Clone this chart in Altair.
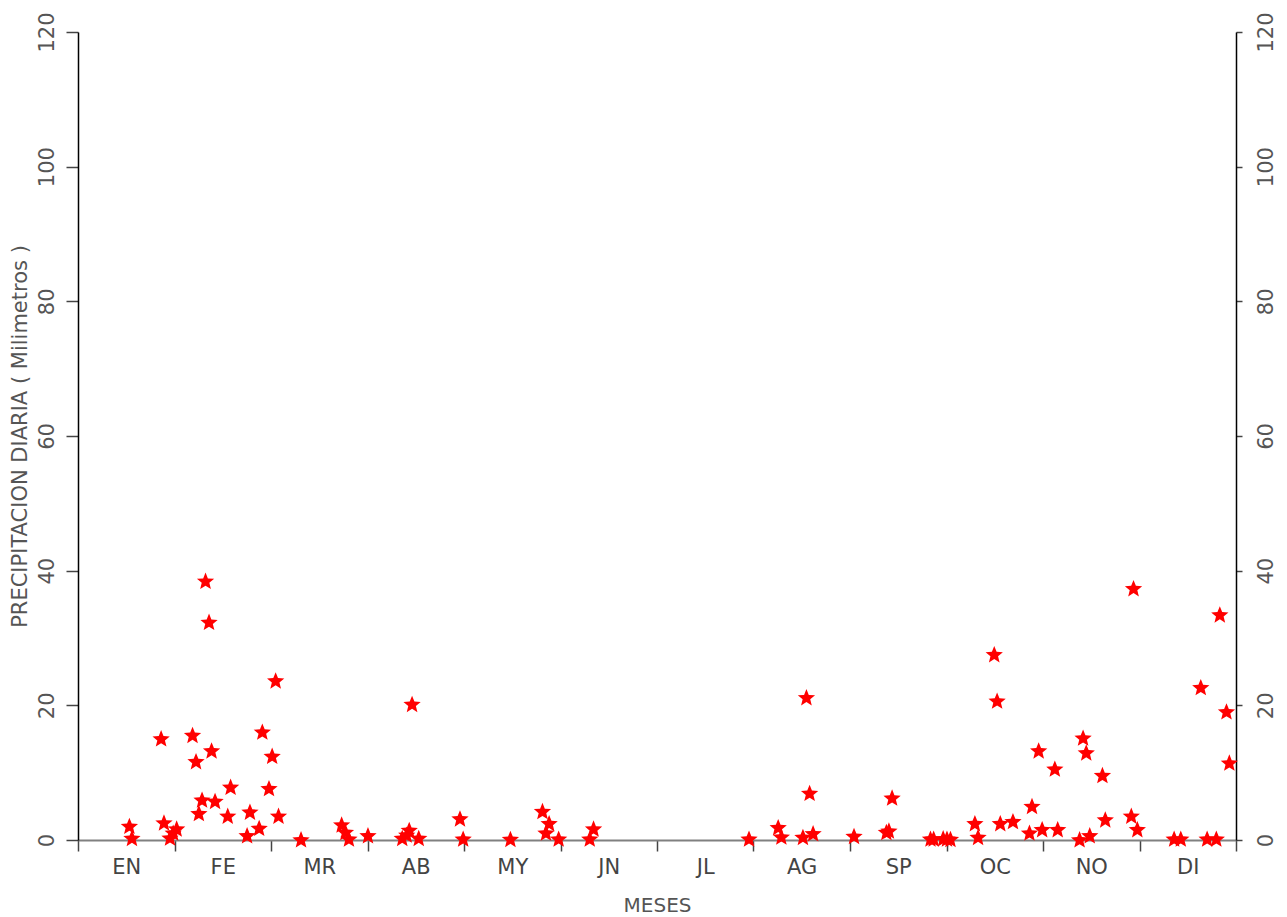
import math
import altair as alt
import pandas as pd

# Day of year (0-365 scale) and daily precipitation (mm)
days = [16.2, 17.0, 26.2, 27.1, 29.0, 30.0, 31.1,
        36.1, 37.2, 38.1, 39.1, 40.2, 41.3, 42.1, 43.2,
        47.2, 48.1, 53.3, 54.2, 57.1, 58.1, 60.2, 61.2, 62.3, 63.2,
        70.3, 83.1, 84.3, 85.4, 91.4, 102.2, 103.6, 104.4, 105.3, 107.4, 120.4, 121.4,
        136.3, 146.4, 147.5, 148.5, 151.5, 161.3, 162.5,
        211.5, 220.7, 221.7, 228.5, 229.6, 230.6, 231.7, 244.6,
        254.8, 255.6, 256.6, 268.7, 269.7, 272.7, 273.9, 275.0,
        282.7, 283.7, 288.8, 289.7, 290.7, 294.7, 299.9, 300.7, 302.8, 303.9, 307.9, 308.8,
        315.7, 316.8, 317.8, 318.9, 322.9, 323.8, 332.0, 332.7, 333.9,
        345.5, 347.6, 353.9, 355.9, 358.8, 359.9, 362.0, 362.9]
precip = [2.1, 0.3, 15.1, 2.6, 0.35, 1.1, 1.7,
          15.6, 11.7, 4.0, 6.0, 38.5, 32.4, 13.3, 5.8,
          3.6, 7.9, 0.7, 4.2, 1.8, 16.1, 7.7, 12.5, 23.7, 3.6,
          0.1, 2.3, 1.2, 0.2, 0.7, 0.3, 0.8, 1.5, 20.2, 0.3, 3.2, 0.2,
          0.15, 4.3, 1.1, 2.5, 0.2, 0.2, 1.7,
          0.2, 1.9, 0.5, 0.45, 21.2, 7.0, 1.0, 0.6,
          1.2, 1.4, 6.3, 0.2, 0.2, 0.25, 0.2, 0.15,
          2.5, 0.45, 27.6, 20.7, 2.5, 2.8, 1.1, 5.05, 13.3, 1.6, 10.6, 1.6,
          0.1, 15.2, 13.0, 0.7, 9.65, 3.05, 3.6, 37.4, 1.6,
          0.2, 0.2, 22.7, 0.2, 0.2, 33.5, 19.1, 11.5]
months = ["EN", "FE", "MR", "AB", "MY", "JN", "JL", "AG", "SP", "OC", "NO", "DI"]
y_ticks = [0, 20, 40, 60, 80, 100, 120]

df = pd.DataFrame({"dia": days, "precip": precip})

# five-point star symbol path
pts = []
for i in range(10):
    a = math.radians(-90 + 36 * i)
    r = 1.0 if i % 2 == 0 else 0.44
    pts.append(f"{r * math.cos(a):.4f},{r * math.sin(a) + 0.0955:.4f}")
star = "M" + " L".join(pts) + " Z"

FONT = "DejaVu Sans"
N = 365
W, H = 1158, 808
odd_test = f"round(datum.value*24/{N}) % 2 == 1"
month_arr = "[" + ",".join(f"'{m}'" for m in months) + "]"
label_expr = f"({odd_test}) ? {month_arr}[(round(datum.value*24/{N})-1)/2] : ''"

x_enc = alt.X(
    "dia:Q",
    scale=alt.Scale(domain=[0, N], nice=False, zero=False),
    axis=alt.Axis(
        values=[k * N / 24 for k in range(25)],
        labelExpr=label_expr,
        title="MESES",
        grid=False,
        domainColor="#808080", domainWidth=2,
        tickColor="#444444", tickWidth=1.5, tickSize=11,
        tickOpacity={"condition": {"test": odd_test, "value": 0}, "value": 1},
        labelFont=FONT, labelFontSize=21, labelColor="#444444",
        labelPadding=5, labelOverlap=False, labelFlush=False,
        titleFont=FONT, titleFontSize=20, titleFontWeight="normal", titleColor="#555555",
        titleX=W / 2, titleY=55, titleAlign="center", titleBaseline="top",
    ),
)

y_scale = alt.Scale(domain=[0, 120], nice=False, zero=True)

left = alt.Chart(df).mark_point(
    shape=star, filled=True, color="#ff0000", size=330, opacity=1, strokeWidth=0
).encode(
    x=x_enc,
    y=alt.Y(
        "precip:Q", scale=y_scale,
        axis=alt.Axis(
            orient="left", values=y_ticks, grid=False,
            domainColor="#000000", domainWidth=1.5,
            tickColor="#444444", tickWidth=1.5, tickSize=12,
            labelAngle=270, labelAlign="center", labelBaseline="alphabetic",
            labelPadding=13, labelFont=FONT, labelFontSize=21, labelColor="#555555",
            title="PRECIPITACION DIARIA ( Milimetros )",
            titleFont=FONT, titleFontSize=21, titleFontWeight="normal", titleColor="#555555",
            titleAngle=270, titleX=-58, titleY=H / 2, titleAlign="center", titleBaseline="middle",
        ),
    ),
)

right = alt.Chart(df).mark_point(
    shape=star, filled=True, color="#ff0000", size=330, opacity=0
).encode(
    x=x_enc,
    y=alt.Y(
        "precip:Q", scale=y_scale,
        axis=alt.Axis(
            orient="right", values=y_ticks, grid=False,
            domainColor="#000000", domainWidth=1.5,
            tickColor="#444444", tickWidth=1.5, tickSize=6,
            labelAngle=270, labelAlign="center", labelBaseline="top",
            labelPadding=13, labelFont=FONT, labelFontSize=21, labelColor="#555555",
            title=None,
        ),
    ),
)

chart = alt.layer(left, right).resolve_axis(y="independent").properties(
    width=W, height=H,
    autosize=alt.AutoSizeParams(type="none"),
    padding={"left": 70, "top": 24, "right": 43, "bottom": 77},
    background="white",
).configure_view(stroke=None)

chart.save("out.html", embed_options={"renderer": "svg", "actions": False})
